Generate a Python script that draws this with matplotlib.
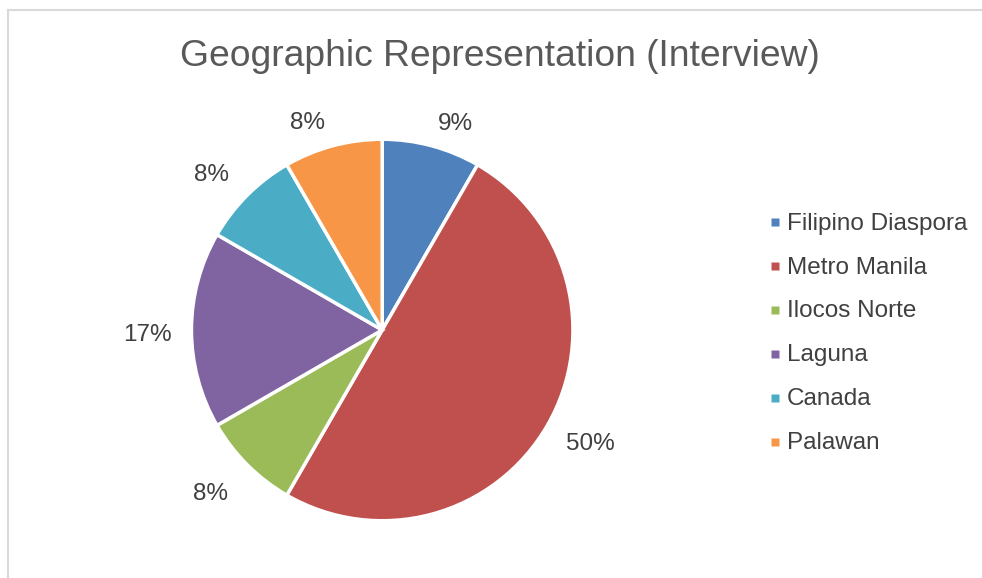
import matplotlib
matplotlib.use("Agg")
import matplotlib.pyplot as plt
from matplotlib.lines import Line2D
from matplotlib.transforms import offset_copy
import numpy as np

plt.rcParams['font.family'] = ['Liberation Sans', 'DejaVu Sans']

title = "Geographic Representation (Interview)"
categories = ["Filipino Diaspora", "Metro Manila", "Ilocos Norte", "Laguna", "Canada", "Palawan"]
# interview counts (slice geometry = 1/12 steps)
counts = [1, 6, 1, 2, 1, 1]
# data labels as printed on the chart
pct_labels = ["9%", "50%", "8%", "17%", "8%", "8%"]
colors = ["#4F81BD", "#C0504D", "#9BBB59", "#8064A2", "#4BACC6", "#F79646"]

fig = plt.figure(figsize=(9.82, 5.78), dpi=100)
fig.patch.set_facecolor("white")

# chart-area frame (left and top edges visible)
fig.add_artist(Line2D([8/982, 8/982], [0, 1 - 10/578], transform=fig.transFigure, color="#d9d9d9", lw=1.5))
fig.add_artist(Line2D([8/982, 1], [1 - 10/578, 1 - 10/578], transform=fig.transFigure, color="#d9d9d9", lw=1.5))

ax = fig.add_axes([191.45/982, 57.25/578, 381.5/982, 381.5/578])
wedges, _ = ax.pie(counts, colors=colors, startangle=90, counterclock=False,
                   wedgeprops=dict(edgecolor="white", linewidth=2.5))
ax.set_aspect("equal")
ax.set_xlim(-1, 1)
ax.set_ylim(-1, 1)

# label placement (best-fit style): radial distance and small angular nudge
label_fs = 17.5
label_dist = [1.16, 1.235, 1.232, 1.233, 1.221, 1.167]
label_nudge = [-4.2, 1.9, -1.8, 0.6, 2.3, 4.7]
half_digit_px = 0.716 * label_fs * 100 / 72 / 2
tr = offset_copy(ax.transData, fig=fig, x=0, y=-half_digit_px, units="dots")
for w, lab, d, nd in zip(wedges, pct_labels, label_dist, label_nudge):
    ang = np.deg2rad((w.theta1 + w.theta2) / 2 + nd)
    ax.text(d * np.cos(ang), d * np.sin(ang), lab, ha="center", va="baseline",
            fontsize=label_fs, color="#404040", clip_on=False, transform=tr)

fig.text(500/982, 1 - 56/578, title, ha="center", va="center", fontsize=26.8, color="#595959")

handles = [Line2D([], [], marker="s", linestyle="none", markersize=6.2,
                  markerfacecolor=c, markeredgecolor="none") for c in colors]
leg = fig.legend(handles, categories, loc="upper left", bbox_to_anchor=(761/982, 1 - 203/578),
                 frameon=False, fontsize=17.5, handlelength=0.38, handleheight=0.38,
                 handletextpad=0.3, labelspacing=0.90, borderaxespad=0)
for t in leg.get_texts():
    t.set_color("#404040")

fig.savefig("out.png", dpi=100, facecolor="white")
